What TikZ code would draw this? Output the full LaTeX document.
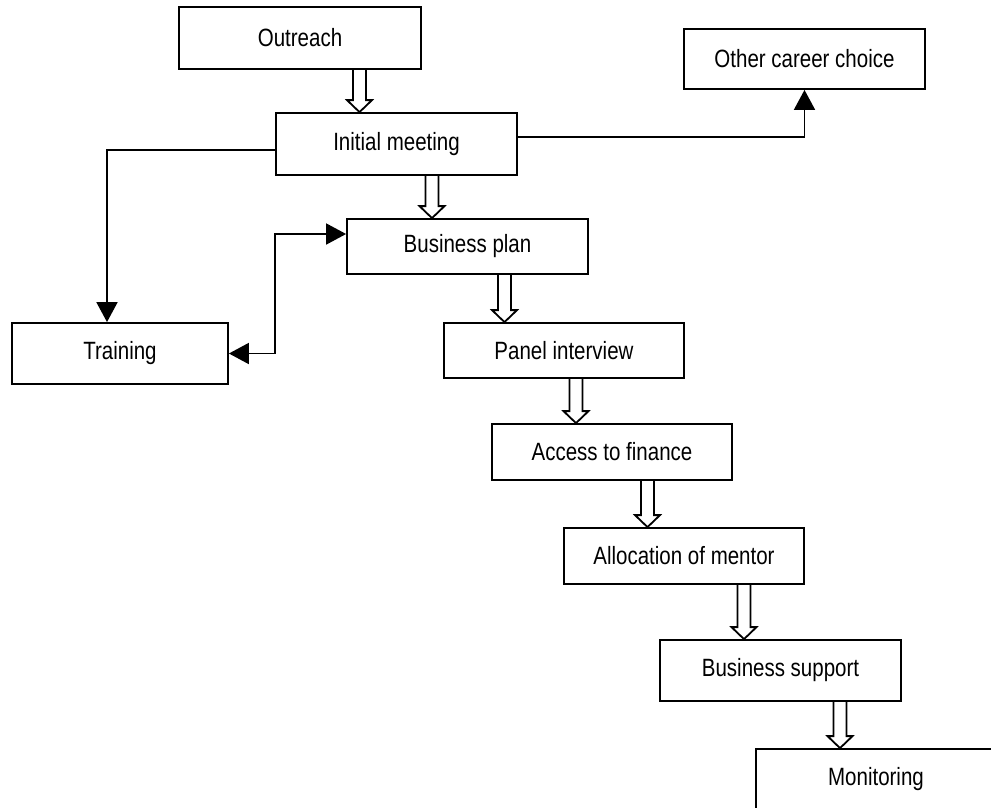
\documentclass[tikz,border=0pt]{standalone}
\usepackage{fontspec}
\setmainfont[FakeStretch=0.82]{Liberation Sans}
\usetikzlibrary{arrows.meta,calc}
\tikzset{
  box/.style={draw, line width=1.8pt, inner sep=0pt, font=\fontsize{25}{30}\selectfont},
  hollowarrow/.style={draw, line width=1.8pt, line join=miter},
  conn/.style={line width=1.8pt, -{Triangle[length=20pt,width=21pt]}},
  conn2/.style={line width=1.8pt, {Triangle[length=20pt,width=21pt]}-{Triangle[length=20pt,width=21pt]}}
}
\newcommand\harrow[3]{%
  \path let \p1=(#3,0), \p2=(#1.south), \p3=(#2.north) in
    [hollowarrow] (\x1-6.5pt,\y2) -- (\x1-6.5pt,\y3+12pt) -- (\x1-12.5pt,\y3+12pt)
    -- (\x1,\y3) -- (\x1+12.5pt,\y3+12pt) -- (\x1+6.5pt,\y3+12pt) -- (\x1+6.5pt,\y2);
}
\begin{document}
\begin{tikzpicture}[x=1pt,y=-1pt]
\clip (0,0) rectangle (991,807);
\fill[white] (0,0) rectangle (991,807);
\node[box, minimum width=242pt, minimum height=62pt] (out) at (300,38) {Outreach};
\node[box, minimum width=241pt, minimum height=62pt] (init) at (396.5,144) {Initial meeting};
\node[box, minimum width=241pt, minimum height=60pt] (other) at (804.5,59) {Other career choice};
\node[box, minimum width=216pt, minimum height=61pt] (tr) at (120,353.5) {Training};
\node[box, minimum width=241pt, minimum height=55pt] (bp) at (467.5,246.5) {Business plan};
\node[box, minimum width=240pt, minimum height=55pt] (pi) at (564,350.5) {Panel interview};
\node[box, minimum width=240pt, minimum height=56pt] (af) at (612,452) {Access to finance};
\node[box, minimum width=240pt, minimum height=56pt] (am) at (684,556) {Allocation of mentor};
\node[box, minimum width=241pt, minimum height=61pt] (bs) at (780.5,670.5) {Business support};
\node[box, minimum width=240pt, minimum height=60pt] (mon) at (876,779) {Monitoring};

\harrow{out}{init}{359.5}
\harrow{init}{bp}{432}
\harrow{bp}{pi}{504.5}
\harrow{pi}{af}{576}
\harrow{af}{am}{647.5}
\harrow{am}{bs}{744}
\harrow{bs}{mon}{840}

\draw[conn] ([yshift=7pt]init.east) -| (other.south);
\draw[conn] ([yshift=-6pt]init.west) -| ([xshift=-13pt]tr.north);
\draw[conn2] ([yshift=12.5pt]bp.west) -- ([yshift=12.5pt]bp.west -| init.west) |- (tr.east);
\end{tikzpicture}
\end{document}
